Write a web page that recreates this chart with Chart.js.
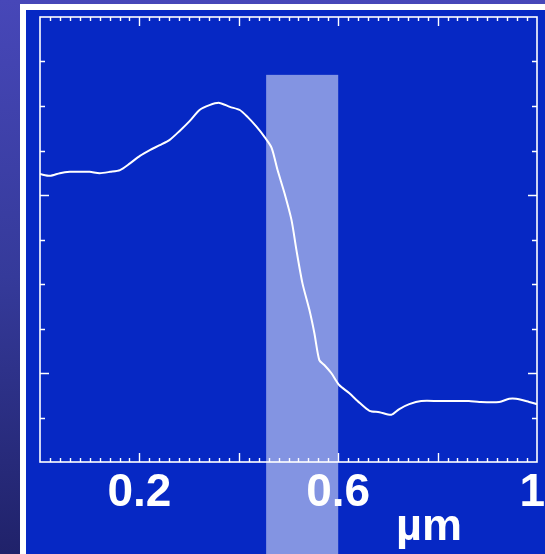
<!DOCTYPE html>
<html>
<head>
<meta charset="utf-8">
<script src="https://cdn.jsdelivr.net/npm/chart.js@4.4.1/dist/chart.umd.min.js"></script>
<style>
  html, body { margin: 0; padding: 0; background: #20226a; }
  canvas { display: block; }
</style>
</head>
<body>
<canvas id="profileChart" width="545" height="554"></canvas>
<script>
// Line profile across the edge (position in µm, signal in arbitrary units 0–10)
const positionUm = [
  0.000, 0.020, 0.040, 0.060, 0.080, 0.100, 0.120, 0.141, 0.161, 0.181,
  0.201, 0.221, 0.241, 0.261, 0.281, 0.301, 0.321, 0.341, 0.361, 0.382,
  0.402, 0.418, 0.436, 0.452, 0.466, 0.478, 0.492, 0.506, 0.516, 0.528,
  0.542, 0.552, 0.562, 0.572, 0.586, 0.602, 0.622, 0.643, 0.663, 0.683,
  0.707, 0.723, 0.743, 0.767, 0.803, 0.863, 0.884, 0.924, 0.944, 0.958,
  0.984, 1.000
];
const signal = [
  6.47, 6.43, 6.49, 6.52, 6.52, 6.52, 6.49, 6.52, 6.56, 6.71,
  6.88, 7.01, 7.12, 7.24, 7.44, 7.66, 7.91, 8.02, 8.07, 7.98,
  7.91, 7.75, 7.53, 7.30, 7.06, 6.56, 6.04, 5.44, 4.76, 4.02,
  3.42, 2.90, 2.29, 2.18, 2.00, 1.73, 1.55, 1.33, 1.15, 1.12,
  1.06, 1.19, 1.30, 1.37, 1.37, 1.37, 1.35, 1.35, 1.42, 1.42,
  1.35, 1.30
];

// Axis ticks and labels
const xLabelValues = [0.2, 0.6, 1];
const xLabelTexts = ['0.2', '0.6', '1'];
const xMajorTicks = [0.2, 0.4, 0.6, 0.8];
const xMinorStep = 0.02;
const yTicks = [1, 2, 3, 4, 5, 6, 7, 8, 9];
const yMajorTicks = [2, 6];
const unitLabel = 'µm';

// Highlighted band (x range in µm, top in signal units)
const bandRange = [0.455, 0.600];
const bandTop = 8.7;

const W = 545, H = 554;

const backdrop = {
  id: 'backdrop',
  beforeDraw(chart) {
    const ctx = chart.ctx;
    ctx.save();
    const g = ctx.createLinearGradient(0, 0, 0, H);
    g.addColorStop(0, '#4747b8');
    g.addColorStop(0.5, '#353a9a');
    g.addColorStop(1, '#20226a');
    ctx.fillStyle = g;
    ctx.fillRect(0, 0, W, H);
    ctx.fillStyle = '#ffffff';
    ctx.fillRect(20, 4, W, H);
    ctx.fillStyle = '#0628c4';
    ctx.fillRect(26, 10, W, H);
    ctx.restore();
  }
};

const frameAndTicks = {
  id: 'frameAndTicks',
  afterDatasetsDraw(chart) {
    const ctx = chart.ctx;
    const { left, right, top, bottom } = chart.chartArea;
    const xs = chart.scales.x, ys = chart.scales.y;
    ctx.save();
    ctx.strokeStyle = '#ffffff';
    ctx.lineWidth = 1.6;
    ctx.strokeRect(left, top, right - left, bottom - top);

    ctx.lineWidth = 1.4;
    ctx.beginPath();
    const nMinor = Math.round(1 / xMinorStep);
    for (let i = 1; i < nMinor; i++) {
      const v = i * xMinorStep;
      const px = Math.round(xs.getPixelForValue(v)) + 0.5;
      const major = xMajorTicks.some(m => Math.abs(m - v) < 1e-6);
      const len = major ? 9 : 4;
      ctx.moveTo(px, bottom);
      ctx.lineTo(px, bottom - len);
      ctx.moveTo(px, top);
      ctx.lineTo(px, top + len);
    }
    yTicks.forEach(v => {
      const py = Math.round(ys.getPixelForValue(v)) + 0.5;
      const len = yMajorTicks.includes(v) ? 9 : 5;
      ctx.moveTo(left, py);
      ctx.lineTo(left + len, py);
      ctx.moveTo(right, py);
      ctx.lineTo(right - len, py);
    });
    ctx.stroke();

    ctx.fillStyle = '#ffffff';
    ctx.font = 'bold 46px "Liberation Sans", Arial, sans-serif';
    ctx.textAlign = 'center';
    ctx.textBaseline = 'alphabetic';
    xLabelValues.forEach((v, i) => {
      const txt = xLabelTexts[i];
      const w = ctx.measureText(txt).width;
      let px = xs.getPixelForValue(v);
      px = Math.min(px, W - w / 2);
      ctx.fillText(txt, px, bottom + 44);
    });
    ctx.font = 'bold 45px "Liberation Sans", Arial, sans-serif';
    ctx.fillText(unitLabel, right - 108, bottom + 78);
    ctx.restore();
  }
};

const band = {
  id: 'band',
  afterDraw(chart) {
    const ctx = chart.ctx;
    const xs = chart.scales.x, ys = chart.scales.y;
    const x0 = xs.getPixelForValue(bandRange[0]);
    const x1 = xs.getPixelForValue(bandRange[1]);
    const y0 = ys.getPixelForValue(bandTop);
    ctx.save();
    ctx.fillStyle = 'rgba(255,255,255,0.5)';
    ctx.fillRect(x0, y0, x1 - x0, H - y0);
    ctx.restore();
  }
};

new Chart(document.getElementById('profileChart'), {
  type: 'line',
  data: {
    datasets: [{
      data: positionUm.map((x, i) => ({ x, y: signal[i] })),
      borderColor: '#ffffff',
      borderWidth: 2,
      pointRadius: 0,
      tension: 0.25,
      fill: false
    }]
  },
  options: {
    responsive: false,
    devicePixelRatio: 1,
    animation: false,
    layout: { padding: { left: 40, right: 8, top: 17, bottom: 92 } },
    plugins: { legend: { display: false }, tooltip: { enabled: false } },
    scales: {
      x: { type: 'linear', min: 0, max: 1, display: false },
      y: { type: 'linear', min: 0, max: 10, display: false }
    }
  },
  plugins: [backdrop, frameAndTicks, band]
});
</script>
</body>
</html>
